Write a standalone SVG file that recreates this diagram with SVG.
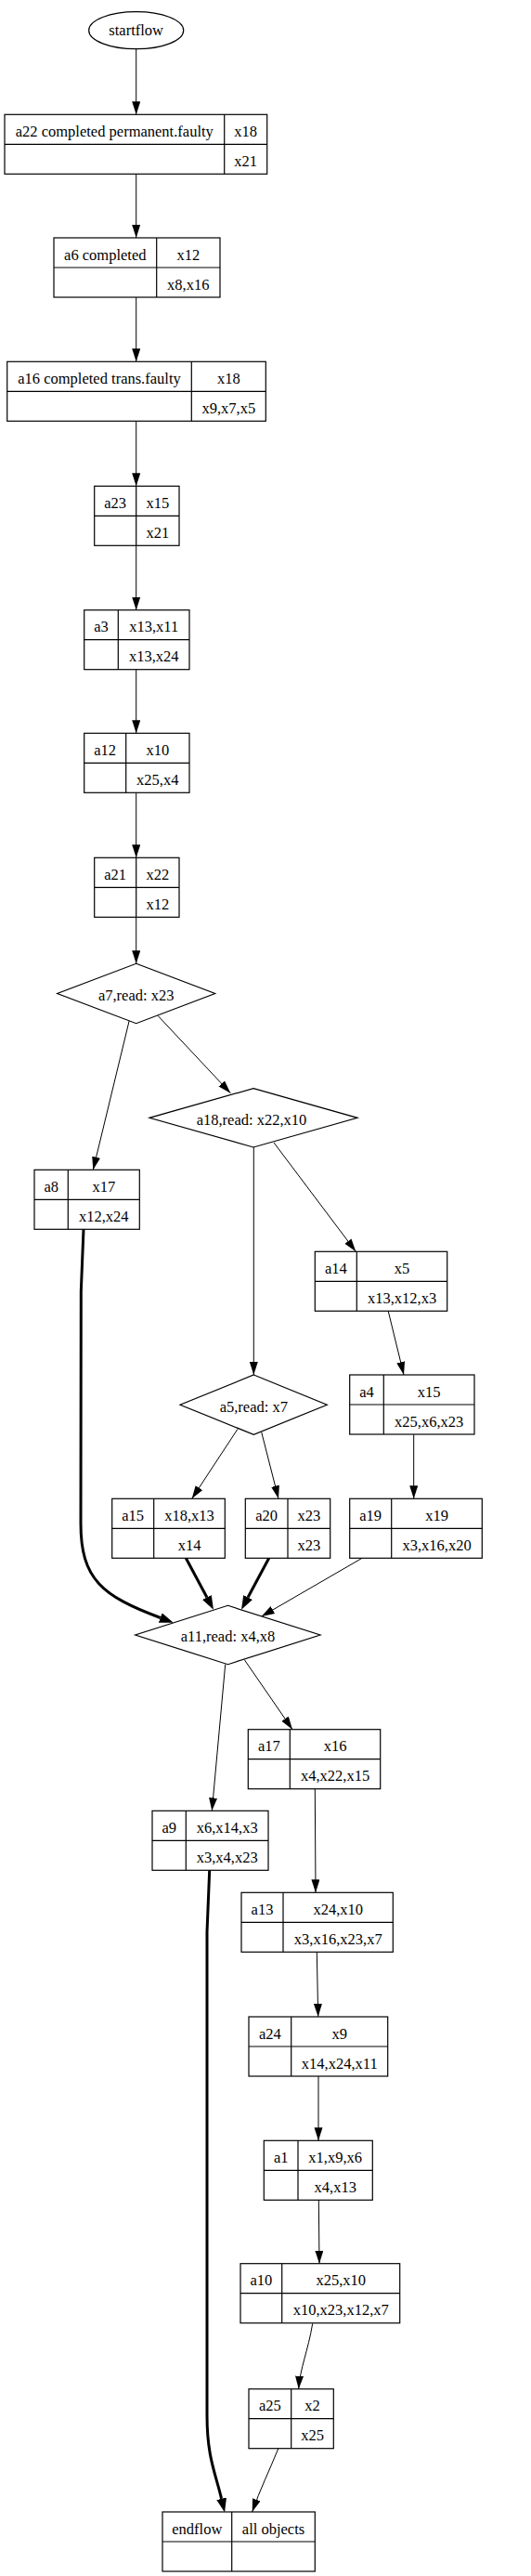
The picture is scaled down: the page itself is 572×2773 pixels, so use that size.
<svg xmlns="http://www.w3.org/2000/svg" width="572" height="2773" viewBox="0 0 572 2773">
<style>
.n{fill:#fff;stroke:#000;stroke-width:1.2}
.d{stroke:#000;stroke-width:1.2}
.t{font-family:"Liberation Serif","Times New Roman",serif;font-size:16.5px;text-anchor:middle;fill:#000}
.e{fill:none;stroke:#000;stroke-width:1}
.b{fill:none;stroke:#000;stroke-width:3}
</style>
<defs>
<marker id="ah" markerUnits="userSpaceOnUse" markerWidth="15" markerHeight="10" refX="14" refY="4.5" orient="auto"><path d="M0,0 L14,4.5 L0,9 Z" fill="#000"/></marker>
<marker id="ahb" markerUnits="userSpaceOnUse" markerWidth="16" markerHeight="12" refX="0" refY="5.5" orient="auto"><path d="M0,0 L15,5.5 L0,11 Z" fill="#000"/></marker>
</defs>
<rect width="572" height="2773" fill="#fff"/>
<g id="connectors">
<path class="e" marker-end="url(#ah)" d="M146.7,52.7 L146.7,123.3"/>
<path class="e" marker-end="url(#ah)" d="M146.7,187.3 L146.7,256"/>
<path class="e" marker-end="url(#ah)" d="M146.7,320 L146.7,389.3"/>
<path class="e" marker-end="url(#ah)" d="M146.7,453.3 L146.7,523.3"/>
<path class="e" marker-end="url(#ah)" d="M146.7,587.3 L146.7,656.7"/>
<path class="e" marker-end="url(#ah)" d="M146.7,720.7 L146.7,789.3"/>
<path class="e" marker-end="url(#ah)" d="M146.7,853.3 L146.7,923.3"/>
<path class="e" marker-end="url(#ah)" d="M146.7,987.3 L146.7,1037.3"/>
<path class="e" marker-end="url(#ah)" d="M139.3,1098.3 L100.3,1259.3"/>
<path class="e" marker-end="url(#ah)" d="M170,1093.3 L248.3,1176.7"/>
<path class="e" marker-end="url(#ah)" d="M273.3,1235 L273.3,1480"/>
<path class="e" marker-end="url(#ah)" d="M295,1230 L383.3,1347.3"/>
<path class="e" marker-end="url(#ah)" d="M418.3,1411.7 L435,1480"/>
<path class="e" marker-end="url(#ah)" d="M445.7,1544.3 L445.7,1613.3"/>
<path class="e" marker-end="url(#ah)" d="M256,1538.3 L206.7,1613.3"/>
<path class="e" marker-end="url(#ah)" d="M281.7,1541.7 L300,1613.3"/>
<path class="b" marker-end="url(#ahb)" d="M90,1323.3 L87.3,1390 L87,1640 C87,1700 110,1718 172.7,1741.5"/>
<path class="b" marker-end="url(#ahb)" d="M200,1676.7 L222.9,1719.5"/>
<path class="b" marker-end="url(#ahb)" d="M290,1676.7 L267.1,1719.5"/>
<path class="e" marker-end="url(#ah)" d="M390,1677.3 L281.7,1740"/>
<path class="e" marker-end="url(#ah)" d="M242.7,1791.7 L228.3,1949.3"/>
<path class="e" marker-end="url(#ah)" d="M263.3,1786.7 L315,1861.7"/>
<path class="e" marker-end="url(#ah)" d="M339.3,1925.3 L340,2037.3"/>
<path class="e" marker-end="url(#ah)" d="M341.3,2101.7 L342.7,2171"/>
<path class="e" marker-end="url(#ah)" d="M343,2235 L343,2304.3"/>
<path class="e" marker-end="url(#ah)" d="M343.3,2368.3 L344,2436.7"/>
<path class="e" marker-end="url(#ah)" d="M336.7,2501.3 C332,2530 323,2550 321.7,2571.7"/>
<path class="e" marker-end="url(#ah)" d="M300,2635.3 C290,2660 280,2680 271.7,2704"/>
<path class="b" marker-end="url(#ahb)" d="M225.7,2013.3 L223,2080 L223,2600 C223,2645 232,2662 238.6,2689.8"/>
</g>
<g id="startflow">
<ellipse class="n" cx="146.7" cy="32.7" rx="51" ry="20"/>
<text class="t" x="146.7" y="37.5">startflow</text>
</g>
<g id="a22">
<rect class="n" x="5" y="123.3" width="282.7" height="64"/>
<path class="d" d="M5,155.3 H287.7 M241.7,123.3 V187.3"/>
<text class="t" x="123.3" y="146.8">a22 completed permanent.faulty</text>
<text class="t" x="264.7" y="146.8">x18</text>
<text class="t" x="264.7" y="178.8">x21</text>
</g>
<g id="a6">
<rect class="n" x="58" y="256" width="179" height="64"/>
<path class="d" d="M58,288 H237 M168.7,256 V320"/>
<text class="t" x="113.3" y="279.5">a6 completed</text>
<text class="t" x="202.8" y="279.5">x12</text>
<text class="t" x="202.8" y="311.5">x8,x16</text>
</g>
<g id="a16">
<rect class="n" x="7.7" y="389.3" width="278.6" height="64"/>
<path class="d" d="M7.7,421.3 H286.3 M206.3,389.3 V453.3"/>
<text class="t" x="107" y="412.8">a16 completed trans.faulty</text>
<text class="t" x="246.3" y="412.8">x18</text>
<text class="t" x="246.3" y="444.8">x9,x7,x5</text>
</g>
<g id="a23">
<rect class="n" x="101.7" y="523.3" width="91.3" height="64"/>
<path class="d" d="M101.7,555.3 H193 M146.7,523.3 V587.3"/>
<text class="t" x="124.2" y="546.8">a23</text>
<text class="t" x="169.8" y="546.8">x15</text>
<text class="t" x="169.8" y="578.8">x21</text>
</g>
<g id="a3">
<rect class="n" x="90.7" y="656.7" width="113.3" height="64"/>
<path class="d" d="M90.7,688.7 H204 M127.3,656.7 V720.7"/>
<text class="t" x="109" y="680.2">a3</text>
<text class="t" x="165.7" y="680.2">x13,x11</text>
<text class="t" x="165.7" y="712.2">x13,x24</text>
</g>
<g id="a12">
<rect class="n" x="90.7" y="789.3" width="113.3" height="64"/>
<path class="d" d="M90.7,821.3 H204 M135.7,789.3 V853.3"/>
<text class="t" x="113.2" y="812.8">a12</text>
<text class="t" x="169.8" y="812.8">x10</text>
<text class="t" x="169.8" y="844.8">x25,x4</text>
</g>
<g id="a21">
<rect class="n" x="101.7" y="923.3" width="91.3" height="64"/>
<path class="d" d="M101.7,955.3 H193 M146.7,923.3 V987.3"/>
<text class="t" x="124.2" y="946.8">a21</text>
<text class="t" x="169.8" y="946.8">x22</text>
<text class="t" x="169.8" y="978.8">x12</text>
</g>
<g id="a7">
<polygon class="n" points="146.7,1037.3 231.7,1069.5 146.7,1101.7 61.7,1069.5"/>
<text class="t" x="146.7" y="1076.7">a7,read: x23</text>
</g>
<g id="a18">
<polygon class="n" points="273,1171.7 385,1203.3 273,1235 161,1203.3"/>
<text class="t" x="271" y="1210.5">a18,read: x22,x10</text>
</g>
<g id="a8">
<rect class="n" x="37" y="1259.3" width="113.3" height="64"/>
<path class="d" d="M37,1291.3 H150.3 M73.3,1259.3 V1323.3"/>
<text class="t" x="55.2" y="1282.8">a8</text>
<text class="t" x="111.8" y="1282.8">x17</text>
<text class="t" x="111.8" y="1314.8">x12,x24</text>
</g>
<g id="a14">
<rect class="n" x="339.3" y="1347.3" width="142.4" height="64"/>
<path class="d" d="M339.3,1379.3 H481.7 M384.3,1347.3 V1411.3"/>
<text class="t" x="361.8" y="1370.8">a14</text>
<text class="t" x="433" y="1370.8">x5</text>
<text class="t" x="433" y="1402.8">x13,x12,x3</text>
</g>
<g id="a5">
<polygon class="n" points="273.3,1480 352.3,1512.2 273.3,1544.3 194,1512.2"/>
<text class="t" x="273.3" y="1519.5">a5,read: x7</text>
</g>
<g id="a4">
<rect class="n" x="376.7" y="1480" width="134.3" height="64"/>
<path class="d" d="M376.7,1512 H511 M413.3,1480 V1544"/>
<text class="t" x="395" y="1503.5">a4</text>
<text class="t" x="462.2" y="1503.5">x15</text>
<text class="t" x="462.2" y="1535.5">x25,x6,x23</text>
</g>
<g id="a15">
<rect class="n" x="120.7" y="1613.3" width="121.6" height="64"/>
<path class="d" d="M120.7,1645.3 H242.3 M165.7,1613.3 V1677.3"/>
<text class="t" x="143.2" y="1636.8">a15</text>
<text class="t" x="204" y="1636.8">x18,x13</text>
<text class="t" x="204" y="1668.8">x14</text>
</g>
<g id="a20">
<rect class="n" x="264.3" y="1613.3" width="91.4" height="64"/>
<path class="d" d="M264.3,1645.3 H355.7 M310,1613.3 V1677.3"/>
<text class="t" x="287.2" y="1636.8">a20</text>
<text class="t" x="332.8" y="1636.8">x23</text>
<text class="t" x="332.8" y="1668.8">x23</text>
</g>
<g id="a19">
<rect class="n" x="376.7" y="1613.3" width="142.6" height="64"/>
<path class="d" d="M376.7,1645.3 H519.3 M421.7,1613.3 V1677.3"/>
<text class="t" x="399.2" y="1636.8">a19</text>
<text class="t" x="470.5" y="1636.8">x19</text>
<text class="t" x="470.5" y="1668.8">x3,x16,x20</text>
</g>
<g id="a11">
<polygon class="n" points="245.5,1728.3 345,1760 245.5,1791.7 145.7,1760"/>
<text class="t" x="245.5" y="1767.3">a11,read: x4,x8</text>
</g>
<g id="a17">
<rect class="n" x="267.3" y="1861.7" width="142.4" height="64"/>
<path class="d" d="M267.3,1893.7 H409.7 M312.3,1861.7 V1925.7"/>
<text class="t" x="289.8" y="1885.2">a17</text>
<text class="t" x="361" y="1885.2">x16</text>
<text class="t" x="361" y="1917.2">x4,x22,x15</text>
</g>
<g id="a9">
<rect class="n" x="164" y="1949.3" width="125" height="64"/>
<path class="d" d="M164,1981.3 H289 M200.3,1949.3 V2013.3"/>
<text class="t" x="182.2" y="1972.8">a9</text>
<text class="t" x="244.7" y="1972.8">x6,x14,x3</text>
<text class="t" x="244.7" y="2004.8">x3,x4,x23</text>
</g>
<g id="a13">
<rect class="n" x="260" y="2037.3" width="163.3" height="64"/>
<path class="d" d="M260,2069.3 H423.3 M305,2037.3 V2101.3"/>
<text class="t" x="282.5" y="2060.8">a13</text>
<text class="t" x="364.2" y="2060.8">x24,x10</text>
<text class="t" x="364.2" y="2092.8">x3,x16,x23,x7</text>
</g>
<g id="a24">
<rect class="n" x="268" y="2171" width="149.7" height="64"/>
<path class="d" d="M268,2203 H417.7 M313.7,2171 V2235"/>
<text class="t" x="290.8" y="2194.5">a24</text>
<text class="t" x="365.7" y="2194.5">x9</text>
<text class="t" x="365.7" y="2226.5">x14,x24,x11</text>
</g>
<g id="a1">
<rect class="n" x="284.3" y="2304.3" width="117" height="64"/>
<path class="d" d="M284.3,2336.3 H401.3 M321,2304.3 V2368.3"/>
<text class="t" x="302.7" y="2327.8">a1</text>
<text class="t" x="361.2" y="2327.8">x1,x9,x6</text>
<text class="t" x="361.2" y="2359.8">x4,x13</text>
</g>
<g id="a10">
<rect class="n" x="259" y="2436.7" width="171.7" height="64"/>
<path class="d" d="M259,2468.7 H430.7 M303.7,2436.7 V2500.7"/>
<text class="t" x="281.3" y="2460.2">a10</text>
<text class="t" x="367.2" y="2460.2">x25,x10</text>
<text class="t" x="367.2" y="2492.2">x10,x23,x12,x7</text>
</g>
<g id="a25">
<rect class="n" x="268" y="2571.7" width="91.3" height="64"/>
<path class="d" d="M268,2603.7 H359.3 M313.7,2571.7 V2635.7"/>
<text class="t" x="290.8" y="2595.2">a25</text>
<text class="t" x="336.5" y="2595.2">x2</text>
<text class="t" x="336.5" y="2627.2">x25</text>
</g>
<g id="endflow">
<rect class="n" x="175" y="2704" width="164.3" height="64"/>
<path class="d" d="M175,2736 H339.3 M249.7,2704 V2768"/>
<text class="t" x="212.3" y="2727.5">endflow</text>
<text class="t" x="294.5" y="2727.5">all objects</text>
</g>
</svg>
